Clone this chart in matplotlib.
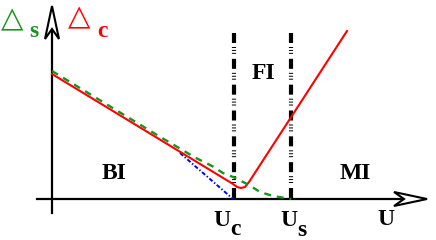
import matplotlib
matplotlib.use("Agg")
import matplotlib.pyplot as plt
from matplotlib.patches import Polygon

plt.rcParams['lines.scale_dashes'] = False

# ---- data (schematic, origin at axes crossing) ----
red_x = [0, 181, 185, 189, 193, 197, 295]
red_y = [125, 15, 12, 11, 12, 17, 168]

green_x = [0, 105, 144, 160, 171, 181, 197, 208, 221, 236, 239]
green_y = [128, 64, 41, 33, 26, 22, 14, 7, 3, 0.5, 0]

blue_x = [128, 181]
blue_y = [46, 0]

Uc = 182
Us = 239
vline_top = 166

x_axis = (-15, 375)
y_axis = (-14, 193)

region_labels = ["BI", "FI", "MI"]
region_pos = [(50, 20), (200, 120), (288, 20)]

# ---- figure ----
fig = plt.figure(figsize=(4.36, 2.40), dpi=100)
ax = fig.add_axes([0, 0, 1, 1])
ax.set_xlim(-52, 384)
ax.set_ylim(-41, 199)
ax.axis('off')

serif = dict(family='Liberation Serif', weight='bold')
GREEN = '#17941a'
RED = '#ff0000'

# axes with open arrowheads
AL, AH, AN = 33, 7, 23
ax.plot([x_axis[0], x_axis[1] - AN], [0, 0], color='black', lw=1.6, zorder=2)
ax.plot([0, 0], [y_axis[0], y_axis[1] - AN], color='black', lw=1.6, zorder=2)
tx = x_axis[1]
ax.add_patch(Polygon([(tx, 0), (tx - AL, AH), (tx - AN, 0), (tx - AL, -AH)],
                     closed=True, facecolor='white', edgecolor='black', lw=1.5, zorder=3))
ty = y_axis[1]
ax.add_patch(Polygon([(0, ty), (AH, ty - AL), (0, ty - AN), (-AH, ty - AL)],
                     closed=True, facecolor='white', edgecolor='black', lw=1.5, zorder=3))

# vertical boundaries
vdash = (0, (7.2, 2.9, 0.7, 1.4, 0.7, 1.4, 0.7, 3.6))
for xv in (Uc, Us):
    ax.plot([xv, xv], [vline_top, 0], color='black', lw=3.0,
            linestyle=vdash, solid_capstyle='butt', dash_capstyle='butt', zorder=2)

# curves
ax.plot(red_x, red_y, color=RED, lw=1.5, zorder=4, solid_joinstyle='round')
ax.plot(green_x, green_y, color=GREEN, lw=1.7, linestyle=(0, (5, 4.3)), zorder=5)
ax.plot(blue_x, blue_y, color='#0000ff', lw=1.4, linestyle=(0, (3, 1.5, 1, 1.5)), zorder=3)

# region labels
for lab, (px, py) in zip(region_labels, region_pos):
    ax.text(px, py, lab, fontsize=17, ha='left', va='baseline', **serif)

# axis labels
ax.text(325, -26, "U", fontsize=17, ha='left', va='baseline', **serif)
ax.text(161, -27, "U", fontsize=17, ha='left', va='baseline', **serif)
ax.text(178, -36, "c", fontsize=17, ha='left', va='baseline', **serif)
ax.text(228, -27, "U", fontsize=17, ha='left', va='baseline', **serif)
ax.text(245, -37, "s", fontsize=17, ha='left', va='baseline', **serif)

# delta labels
ax.text(-51, 172, "△", fontsize=21, color=GREEN, ha='left', va='baseline', family='DejaVu Sans')
ax.text(-23, 162, "s", fontsize=17, color=GREEN, ha='left', va='baseline', **serif)
ax.text(16, 174, "△", fontsize=21, color=RED, ha='left', va='baseline', family='DejaVu Sans')
ax.text(45, 162, "c", fontsize=17, color=RED, ha='left', va='baseline', **serif)

fig.savefig("out.png", dpi=100)
